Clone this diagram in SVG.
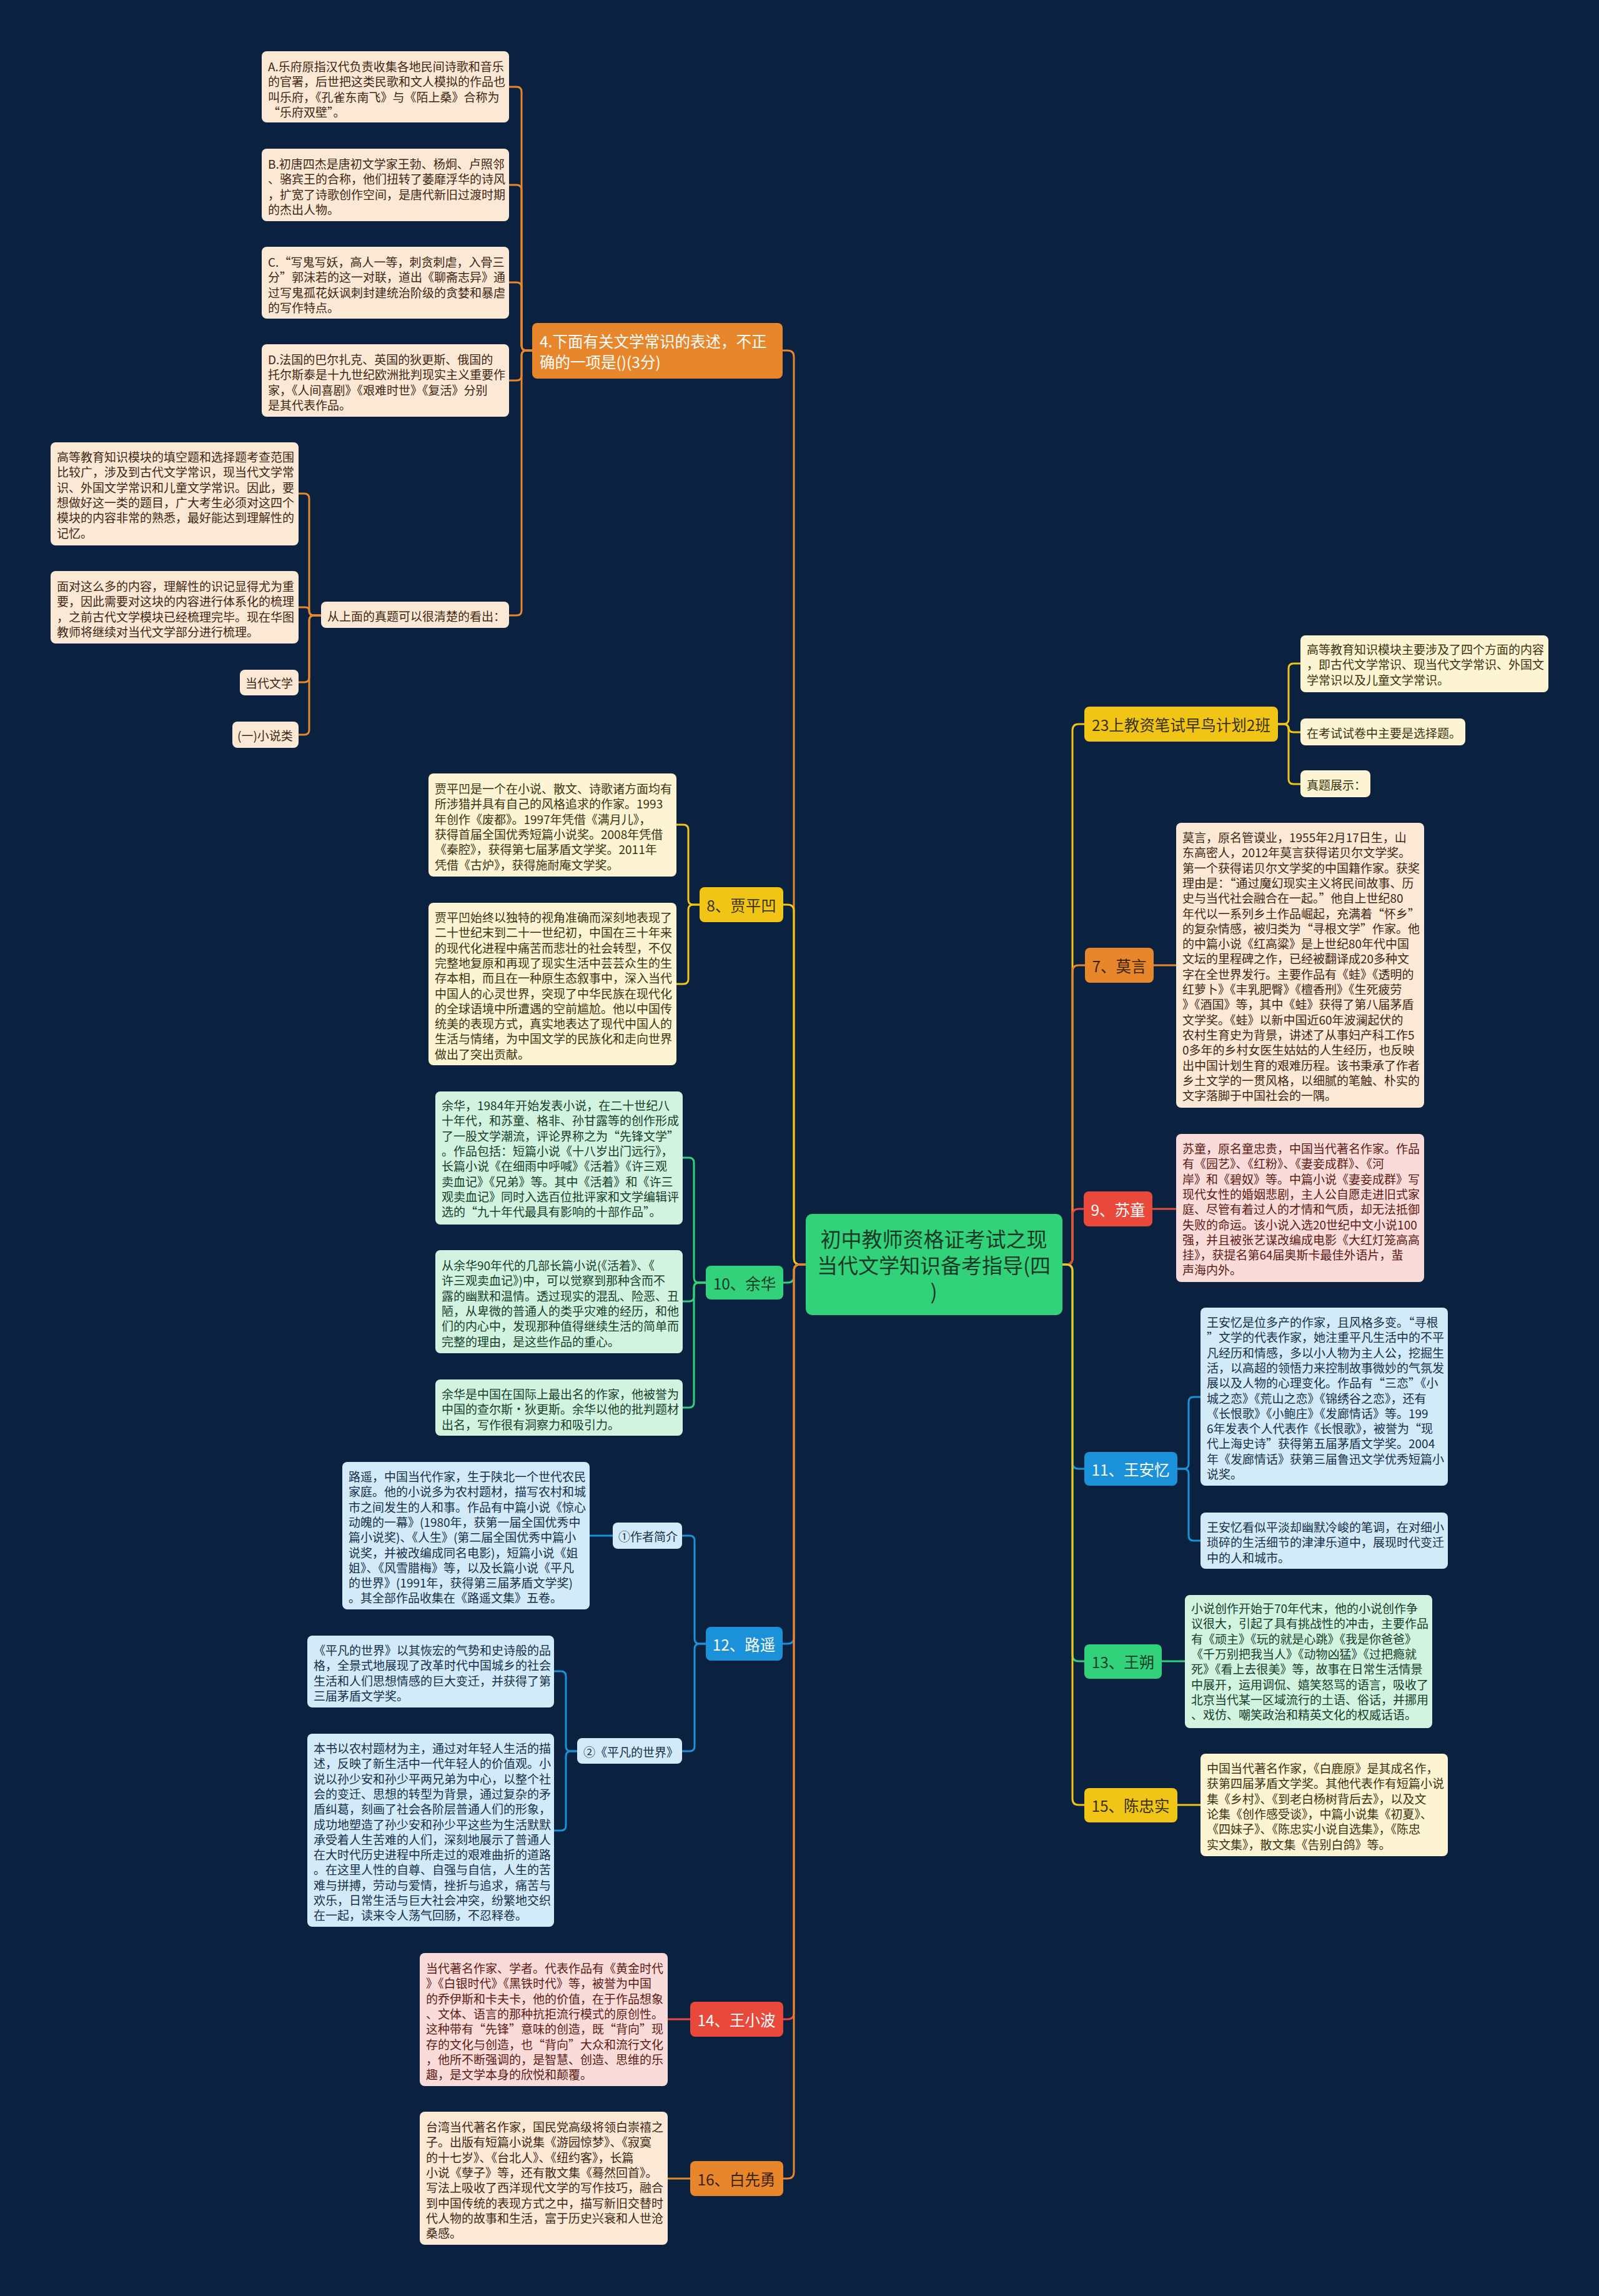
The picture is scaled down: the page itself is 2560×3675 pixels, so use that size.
<svg xmlns="http://www.w3.org/2000/svg" width="2560" height="3675" viewBox="0 0 2560 3675">
<style>
.t{font-family:"Noto Sans CJK SC","Noto Sans",sans-serif;font-size:19px;dominant-baseline:central}
.n{font-family:"Noto Sans CJK SC","Noto Sans",sans-serif;font-size:24.5px;dominant-baseline:central;text-anchor:middle}
.c{fill:none;stroke-width:3;stroke-linejoin:round;stroke-linecap:round}
.lo{fill:#fbe8d5}.to{fill:#3f2613}
.ly{fill:#fcf4d2}.ty{fill:#3b3210}
.lr{fill:#f9dcd9}.tr{fill:#5c1a14}
.lb{fill:#d3eaf8}.tb{fill:#15304a}
.lg{fill:#d3f3e1}.tg{fill:#153d29}
.no{fill:#e8862b}.ny{fill:#f1c515}.ng{fill:#31d27a}.nr{fill:#e8493b}.nb{fill:#1b91d9}
.so{stroke:#e8862b}.sy{stroke:#f1c515}.sg{stroke:#31d27a}.sr{stroke:#e8493b}.sb{stroke:#1b91d9}
.wt{fill:#ffffff}.dk{fill:#3a2208}
</style>
<rect x="0" y="0" width="2560" height="3675" fill="#0a2140"/>

<g id="connectors">
<!-- right main -->
<path class="c sy" d="M1701 2024 H1707 Q1717 2024 1717 2014 V1169 Q1717 1159 1727 1159 H1736"/>
<path class="c so" d="M1701 2024 H1707 Q1717 2024 1717 2014 V1555 Q1717 1545 1727 1545 H1737"/>
<path class="c sr" d="M1701 2024 H1707 Q1717 2024 1717 2014 V1945 Q1717 1935 1727 1935 H1735"/>
<path class="c sb" d="M1701 2024 H1707 Q1717 2024 1717 2034 V2341 Q1717 2351 1727 2351 H1736"/>
<path class="c sg" d="M1701 2024 H1707 Q1717 2024 1717 2034 V2649 Q1717 2659 1727 2659 H1736"/>
<path class="c sy" d="M1701 2024 H1707 Q1717 2024 1717 2034 V2879 Q1717 2889 1727 2889 H1736"/>
<!-- left main -->
<path class="c so" d="M1290 2024 H1281 Q1271 2024 1271 2014 V571 Q1271 561 1261 561 H1253"/>
<path class="c sy" d="M1290 2024 H1281 Q1271 2024 1271 2014 V1458 Q1271 1448 1261 1448 H1254"/>
<path class="c sg" d="M1290 2024 H1281 Q1271 2024 1271 2034 V2043 Q1271 2053 1261 2053 H1254"/>
<path class="c sb" d="M1290 2024 H1281 Q1271 2024 1271 2034 V2621 Q1271 2631 1261 2631 H1253"/>
<path class="c sr" d="M1290 2024 H1281 Q1271 2024 1271 2034 V3222 Q1271 3232 1261 3232 H1254"/>
<path class="c so" d="M1290 2024 H1281 Q1271 2024 1271 2034 V3477 Q1271 3487 1261 3487 H1254"/>
<!-- 23上 -->
<path class="c sy" d="M2046 1159 H2055 Q2063 1159 2063 1151 V1070 Q2063 1062 2071 1062 H2082"/>
<path class="c sy" d="M2046 1159 H2055 Q2063 1159 2063 1167 V1164 Q2063 1172 2071 1172 H2082"/>
<path class="c sy" d="M2046 1159 H2055 Q2063 1159 2063 1167 V1247 Q2063 1255 2071 1255 H2082"/>
<path class="c so" d="M1847 1545 H1883"/>
<path class="c sr" d="M1845 1935 H1883"/>
<path class="c sb" d="M1885 2351 H1895 Q1903 2351 1903 2343 V2244 Q1903 2236 1911 2236 H1922"/>
<path class="c sb" d="M1885 2351 H1895 Q1903 2351 1903 2359 V2458 Q1903 2466 1911 2466 H1922"/>
<path class="c sg" d="M1860 2659 H1897"/>
<path class="c sy" d="M1885 2889 H1922"/>
<!-- 4. -->
<path class="c so" d="M852 561 H843 Q835 561 835 553 V147 Q835 139 827 139 H815"/>
<path class="c so" d="M852 561 H843 Q835 561 835 553 V304 Q835 296 827 296 H815"/>
<path class="c so" d="M852 561 H843 Q835 561 835 553 V460 Q835 452 827 452 H815"/>
<path class="c so" d="M852 561 H843 Q835 561 835 569 V601 Q835 609 827 609 H815"/>
<path class="c so" d="M852 561 H843 Q835 561 835 569 V977 Q835 985 827 985 H815"/>
<!-- 从上面 -->
<path class="c so" d="M514 985 H503 Q495 985 495 977 V798 Q495 790 487 790 H478"/>
<path class="c so" d="M514 985 H503 Q495 985 495 979 V978 Q495 972 489 972 H478"/>
<path class="c so" d="M514 985 H503 Q495 985 495 993 V1084 Q495 1092 487 1092 H478"/>
<path class="c so" d="M514 985 H503 Q495 985 495 993 V1168 Q495 1176 487 1176 H478"/>
<!-- 贾平凹 -->
<path class="c sy" d="M1120 1448 H1110 Q1102 1448 1102 1440 V1328 Q1102 1320 1094 1320 H1083"/>
<path class="c sy" d="M1120 1448 H1110 Q1102 1448 1102 1456 V1567 Q1102 1575 1094 1575 H1083"/>
<!-- 余华 -->
<path class="c sg" d="M1130 2053 H1119 Q1111 2053 1111 2045 V1861 Q1111 1853 1103 1853 H1093"/>
<path class="c sg" d="M1130 2053 H1119 Q1111 2053 1111 2061 V2075 Q1111 2083 1103 2083 H1093"/>
<path class="c sg" d="M1130 2053 H1119 Q1111 2053 1111 2061 V2245 Q1111 2253 1103 2253 H1093"/>
<!-- 路遥 -->
<path class="c sb" d="M1130 2631 H1120 Q1112 2631 1112 2623 V2466 Q1112 2458 1104 2458 H1092"/>
<path class="c sb" d="M1130 2631 H1120 Q1112 2631 1112 2639 V2795 Q1112 2803 1104 2803 H1092"/>
<path class="c sb" d="M981 2458 H944"/>
<path class="c sb" d="M924 2803 H914 Q906 2803 906 2795 V2683 Q906 2675 898 2675 H887"/>
<path class="c sb" d="M924 2803 H914 Q906 2803 906 2811 V2922 Q906 2930 898 2930 H887"/>
<path class="c sr" d="M1105 3232 H1069"/>
<path class="c so" d="M1105 3487 H1069"/>
</g>

<g id="center">
<rect x="1290" y="1943" width="411" height="162" rx="10" fill="#31d27a"/>
<text class="n" style="font-size:33px" fill="#173a26"><tspan x="1495" y="1982">初中教师资格证考试之现</tspan><tspan x="1495" y="2024">当代文学知识备考指导(四</tspan><tspan x="1495" y="2066">)</tspan></text>
</g>

<!-- right branches -->
<g id="n23">
<rect class="ny" x="1736" y="1131" width="310" height="56" rx="8"/>
<text class="n ty" x="1891" y="1159">23上教资笔试早鸟计划2班</text>
</g>
<g id="n23a">
<rect class="ly" x="2082" y="1017" width="397" height="91" rx="8"/>
<text class="t ty"><tspan x="2092" y="1038">高等教育知识模块主要涉及了四个方面的内容</tspan><tspan x="2092" y="1062.3">，即古代文学常识、现当代文学常识、外国文</tspan><tspan x="2092" y="1086.6">学常识以及儿童文学常识。</tspan></text>
</g>
<g id="n23b">
<rect class="ly" x="2082" y="1150" width="264" height="43" rx="8"/>
<text class="t ty" x="2092" y="1172">在考试试卷中主要是选择题。</text>
</g>
<g id="n23c">
<rect class="ly" x="2082" y="1233" width="112" height="43" rx="8"/>
<text class="t ty" x="2092" y="1255">真题展示：</text>
</g>

<g id="n7">
<rect class="no" x="1737" y="1517" width="110" height="56" rx="8"/>
<text class="n dk" x="1792" y="1545">7、莫言</text>
</g>
<g id="n7a">
<rect class="lo" x="1883" y="1317" width="397" height="456" rx="8"/>
<text class="t to"><tspan x="1893" y="1339">莫言，原名管谟业，1955年2月17日生，山</tspan><tspan x="1893" y="1363.3">东高密人，2012年莫言获得诺贝尔文学奖。</tspan><tspan x="1893" y="1387.6">第一个获得诺贝尔文学奖的中国籍作家。获奖</tspan><tspan x="1893" y="1411.9">理由是：“通过魔幻现实主义将民间故事、历</tspan><tspan x="1893" y="1436.2">史与当代社会融合在一起。”他自上世纪80</tspan><tspan x="1893" y="1460.5">年代以一系列乡土作品崛起，充满着“怀乡”</tspan><tspan x="1893" y="1484.8">的复杂情感，被归类为“寻根文学”作家。他</tspan><tspan x="1893" y="1509.1">的中篇小说《红高粱》是上世纪80年代中国</tspan><tspan x="1893" y="1533.4">文坛的里程碑之作，已经被翻译成20多种文</tspan><tspan x="1893" y="1557.7">字在全世界发行。主要作品有《蛙》《透明的</tspan><tspan x="1893" y="1582">红萝卜》《丰乳肥臀》《檀香刑》《生死疲劳</tspan><tspan x="1893" y="1606.3">》《酒国》等，其中《蛙》获得了第八届茅盾</tspan><tspan x="1893" y="1630.6">文学奖。《蛙》以新中国近60年波澜起伏的</tspan><tspan x="1893" y="1654.9">农村生育史为背景，讲述了从事妇产科工作5</tspan><tspan x="1893" y="1679.2">0多年的乡村女医生姑姑的人生经历，也反映</tspan><tspan x="1893" y="1703.5">出中国计划生育的艰难历程。该书秉承了作者</tspan><tspan x="1893" y="1727.8">乡土文学的一贯风格，以细腻的笔触、朴实的</tspan><tspan x="1893" y="1752.1">文字落脚于中国社会的一隅。</tspan></text>
</g>

<g id="n9">
<rect class="nr" x="1735" y="1907" width="110" height="56" rx="8"/>
<text class="n wt" x="1790" y="1935">9、苏童</text>
</g>
<g id="n9a">
<rect class="lr" x="1883" y="1815" width="397" height="237" rx="8"/>
<text class="t tr"><tspan x="1893" y="1837">苏童，原名童忠贵，中国当代著名作家。作品</tspan><tspan x="1893" y="1861.3">有《园艺》、《红粉》、《妻妾成群》、《河</tspan><tspan x="1893" y="1885.6">岸》和《碧奴》等。中篇小说《妻妾成群》写</tspan><tspan x="1893" y="1909.9">现代女性的婚姻悲剧，主人公自愿走进旧式家</tspan><tspan x="1893" y="1934.2">庭、尽管有着过人的才情和气质，却无法抵御</tspan><tspan x="1893" y="1958.5">失败的命运。该小说入选20世纪中文小说100</tspan><tspan x="1893" y="1982.8">强，并且被张艺谋改编成电影《大红灯笼高高</tspan><tspan x="1893" y="2007.1">挂》，获提名第64届奥斯卡最佳外语片，蜚</tspan><tspan x="1893" y="2031.4">声海内外。</tspan></text>
</g>

<g id="n11">
<rect class="nb" x="1736" y="2324" width="149" height="54" rx="8"/>
<text class="n wt" x="1810" y="2351">11、王安忆</text>
</g>
<g id="n11a">
<rect class="lb" x="1922" y="2093" width="396" height="285" rx="8"/>
<text class="t tb"><tspan x="1932" y="2115">王安忆是位多产的作家，且风格多变。“寻根</tspan><tspan x="1932" y="2139.3">”文学的代表作家，她注重平凡生活中的不平</tspan><tspan x="1932" y="2163.6">凡经历和情感，多以小人物为主人公，挖掘生</tspan><tspan x="1932" y="2187.9">活，以高超的领悟力来控制故事微妙的气氛发</tspan><tspan x="1932" y="2212.2">展以及人物的心理变化。作品有“三恋”《小</tspan><tspan x="1932" y="2236.5">城之恋》《荒山之恋》《锦绣谷之恋》，还有</tspan><tspan x="1932" y="2260.8">《长恨歌》《小鲍庄》《发廊情话》等。199</tspan><tspan x="1932" y="2285.1">6年发表个人代表作《长恨歌》，被誉为“现</tspan><tspan x="1932" y="2309.4">代上海史诗”获得第五届茅盾文学奖。2004</tspan><tspan x="1932" y="2333.7">年《发廊情话》获第三届鲁迅文学优秀短篇小</tspan><tspan x="1932" y="2358">说奖。</tspan></text>
</g>
<g id="n11b">
<rect class="lb" x="1922" y="2421" width="396" height="90" rx="8"/>
<text class="t tb"><tspan x="1932" y="2443">王安忆看似平淡却幽默冷峻的笔调，在对细小</tspan><tspan x="1932" y="2467.3">琐碎的生活细节的津津乐道中，展现时代变迁</tspan><tspan x="1932" y="2491.6">中的人和城市。</tspan></text>
</g>

<g id="n13">
<rect class="ng" x="1736" y="2632" width="124" height="55" rx="8"/>
<text class="n tg" x="1798" y="2659">13、王朔</text>
</g>
<g id="n13a">
<rect class="lg" x="1897" y="2553" width="396" height="213" rx="8"/>
<text class="t tg"><tspan x="1907" y="2573">小说创作开始于70年代末，他的小说创作争</tspan><tspan x="1907" y="2597.3">议很大，引起了具有挑战性的冲击，主要作品</tspan><tspan x="1907" y="2621.6">有《顽主》《玩的就是心跳》《我是你爸爸》</tspan><tspan x="1907" y="2645.9">《千万别把我当人》《动物凶猛》《过把瘾就</tspan><tspan x="1907" y="2670.2">死》《看上去很美》等，故事在日常生活情景</tspan><tspan x="1907" y="2694.5">中展开，运用调侃、嬉笑怒骂的语言，吸收了</tspan><tspan x="1907" y="2718.8">北京当代某一区域流行的土语、俗话，并挪用</tspan><tspan x="1907" y="2743.1">、戏仿、嘲笑政治和精英文化的权威话语。</tspan></text>
</g>

<g id="n15">
<rect class="ny" x="1736" y="2862" width="149" height="55" rx="8"/>
<text class="n ty" x="1810" y="2889">15、陈忠实</text>
</g>
<g id="n15a">
<rect class="ly" x="1922" y="2807" width="396" height="164" rx="8"/>
<text class="t ty"><tspan x="1932" y="2829">中国当代著名作家，《白鹿原》是其成名作，</tspan><tspan x="1932" y="2853.3">获第四届茅盾文学奖。其他代表作有短篇小说</tspan><tspan x="1932" y="2877.6">集《乡村》、《到老白杨树背后去》，以及文</tspan><tspan x="1932" y="2901.9">论集《创作感受谈》，中篇小说集《初夏》、</tspan><tspan x="1932" y="2926.2">《四妹子》、《陈忠实小说自选集》，《陈忠</tspan><tspan x="1932" y="2950.5">实文集》，散文集《告别白鸽》等。</tspan></text>
</g>

<!-- left branches -->
<g id="n4">
<rect class="no" x="852" y="517" width="401" height="89" rx="8"/>
<text class="n wt" style="text-anchor:start"><tspan x="864" y="545">4.下面有关文学常识的表述，不正</tspan><tspan x="864" y="578">确的一项是()(3分)</tspan></text>
</g>
<g id="n4a">
<rect class="lo" x="419" y="82" width="396" height="114" rx="8"/>
<text class="t to"><tspan x="429" y="105">A.乐府原指汉代负责收集各地民间诗歌和音乐</tspan><tspan x="429" y="129.3">的官署，后世把这类民歌和文人模拟的作品也</tspan><tspan x="429" y="153.6">叫乐府，《孔雀东南飞》与《陌上桑》合称为</tspan><tspan x="429" y="177.9">“乐府双壁”。</tspan></text>
</g>
<g id="n4b">
<rect class="lo" x="419" y="238" width="396" height="116" rx="8"/>
<text class="t to"><tspan x="429" y="261">B.初唐四杰是唐初文学家王勃、杨炯、卢照邻</tspan><tspan x="429" y="285.3">、骆宾王的合称，他们扭转了萎靡浮华的诗风</tspan><tspan x="429" y="309.6">，扩宽了诗歌创作空间，是唐代新旧过渡时期</tspan><tspan x="429" y="333.9">的杰出人物。</tspan></text>
</g>
<g id="n4c">
<rect class="lo" x="419" y="395" width="396" height="115" rx="8"/>
<text class="t to"><tspan x="429" y="418">C.“写鬼写妖，高人一等，刺贪刺虐，入骨三</tspan><tspan x="429" y="442.3">分”郭沫若的这一对联，道出《聊斋志异》通</tspan><tspan x="429" y="466.6">过写鬼孤花妖讽刺封建统治阶级的贪婪和暴虐</tspan><tspan x="429" y="490.9">的写作特点。</tspan></text>
</g>
<g id="n4d">
<rect class="lo" x="419" y="551" width="396" height="116" rx="8"/>
<text class="t to"><tspan x="429" y="574">D.法国的巴尔扎克、英国的狄更斯、俄国的</tspan><tspan x="429" y="598.3">托尔斯泰是十九世纪欧洲批判现实主义重要作</tspan><tspan x="429" y="622.6">家，《人间喜剧》《艰难时世》《复活》分别</tspan><tspan x="429" y="646.9">是其代表作品。</tspan></text>
</g>
<g id="n4e">
<rect class="lo" x="514" y="963" width="301" height="42" rx="8"/>
<text class="t to" x="524" y="985">从上面的真题可以很清楚的看出：</text>
</g>
<g id="n4e1">
<rect class="lo" x="81" y="708" width="397" height="165" rx="8"/>
<text class="t to"><tspan x="91" y="730">高等教育知识模块的填空题和选择题考查范围</tspan><tspan x="91" y="754.3">比较广，涉及到古代文学常识，现当代文学常</tspan><tspan x="91" y="778.6">识、外国文学常识和儿童文学常识。因此，要</tspan><tspan x="91" y="802.9">想做好这一类的题目，广大考生必须对这四个</tspan><tspan x="91" y="827.2">模块的内容非常的熟悉，最好能达到理解性的</tspan><tspan x="91" y="851.5">记忆。</tspan></text>
</g>
<g id="n4e2">
<rect class="lo" x="81" y="914" width="397" height="116" rx="8"/>
<text class="t to"><tspan x="91" y="937">面对这么多的内容，理解性的识记显得尤为重</tspan><tspan x="91" y="961.3">要，因此需要对这块的内容进行体系化的梳理</tspan><tspan x="91" y="985.6">，之前古代文学模块已经梳理完毕。现在华图</tspan><tspan x="91" y="1009.9">教师将继续对当代文学部分进行梳理。</tspan></text>
</g>
<g id="n4e3">
<rect class="lo" x="384" y="1072" width="94" height="41" rx="8"/>
<text class="t to" x="393" y="1092">当代文学</text>
</g>
<g id="n4e4">
<rect class="lo" x="372" y="1155" width="106" height="42" rx="8"/>
<text class="t to" x="380" y="1176">(一)小说类</text>
</g>

<g id="n8">
<rect class="ny" x="1120" y="1420" width="134" height="56" rx="8"/>
<text class="n ty" x="1187" y="1448">8、贾平凹</text>
</g>
<g id="n8a">
<rect class="ly" x="686" y="1238" width="397" height="165" rx="8"/>
<text class="t ty"><tspan x="696" y="1261">贾平凹是一个在小说、散文、诗歌诸方面均有</tspan><tspan x="696" y="1285.3">所涉猎并具有自己的风格追求的作家。1993</tspan><tspan x="696" y="1309.6">年创作《废都》。1997年凭借《满月儿》，</tspan><tspan x="696" y="1333.9">获得首届全国优秀短篇小说奖。2008年凭借</tspan><tspan x="696" y="1358.2">《秦腔》，获得第七届茅盾文学奖。2011年</tspan><tspan x="696" y="1382.5">凭借《古炉》，获得施耐庵文学奖。</tspan></text>
</g>
<g id="n8b">
<rect class="ly" x="686" y="1445" width="397" height="260" rx="8"/>
<text class="t ty"><tspan x="696" y="1467">贾平凹始终以独特的视角准确而深刻地表现了</tspan><tspan x="696" y="1491.3">二十世纪末到二十一世纪初，中国在三十年来</tspan><tspan x="696" y="1515.6">的现代化进程中痛苦而悲壮的社会转型，不仅</tspan><tspan x="696" y="1539.9">完整地复原和再现了现实生活中芸芸众生的生</tspan><tspan x="696" y="1564.2">存本相，而且在一种原生态叙事中，深入当代</tspan><tspan x="696" y="1588.5">中国人的心灵世界，突现了中华民族在现代化</tspan><tspan x="696" y="1612.8">的全球语境中所遭遇的空前尴尬。他以中国传</tspan><tspan x="696" y="1637.1">统美的表现方式，真实地表达了现代中国人的</tspan><tspan x="696" y="1661.4">生活与情绪，为中国文学的民族化和走向世界</tspan><tspan x="696" y="1685.7">做出了突出贡献。</tspan></text>
</g>

<g id="n10">
<rect class="ng" x="1130" y="2026" width="124" height="54" rx="8"/>
<text class="n tg" x="1192" y="2053">10、余华</text>
</g>
<g id="n10a">
<rect class="lg" x="697" y="1747" width="396" height="213" rx="8"/>
<text class="t tg"><tspan x="707" y="1768">余华，1984年开始发表小说，在二十世纪八</tspan><tspan x="707" y="1792.3">十年代，和苏童、格非、孙甘露等的创作形成</tspan><tspan x="707" y="1816.6">了一股文学潮流，评论界称之为“先锋文学”</tspan><tspan x="707" y="1840.9">。作品包括：短篇小说《十八岁出门远行》，</tspan><tspan x="707" y="1865.2">长篇小说《在细雨中呼喊》《活着》《许三观</tspan><tspan x="707" y="1889.5">卖血记》《兄弟》等。其中《活着》和《许三</tspan><tspan x="707" y="1913.8">观卖血记》同时入选百位批评家和文学编辑评</tspan><tspan x="707" y="1938.1">选的“九十年代最具有影响的十部作品”。</tspan></text>
</g>
<g id="n10b">
<rect class="lg" x="697" y="2001" width="396" height="165" rx="8"/>
<text class="t tg"><tspan x="707" y="2024">从余华90年代的几部长篇小说(《活着》、《</tspan><tspan x="707" y="2048.3">许三观卖血记》)中，可以觉察到那种含而不</tspan><tspan x="707" y="2072.6">露的幽默和温情。透过现实的混乱、险恶、丑</tspan><tspan x="707" y="2096.9">陋，从卑微的普通人的类乎灾难的经历，和他</tspan><tspan x="707" y="2121.2">们的内心中，发现那种值得继续生活的简单而</tspan><tspan x="707" y="2145.5">完整的理由，是这些作品的重心。</tspan></text>
</g>
<g id="n10c">
<rect class="lg" x="697" y="2208" width="396" height="90" rx="8"/>
<text class="t tg"><tspan x="707" y="2230">余华是中国在国际上最出名的作家，他被誉为</tspan><tspan x="707" y="2254.3">中国的查尔斯·狄更斯。余华以他的批判题材</tspan><tspan x="707" y="2278.6">出名，写作很有洞察力和吸引力。</tspan></text>
</g>

<g id="n12">
<rect class="nb" x="1130" y="2604" width="123" height="54" rx="8"/>
<text class="n wt" x="1191" y="2631">12、路遥</text>
</g>
<g id="n12a">
<rect class="lb" x="981" y="2437" width="111" height="42" rx="8"/>
<text class="t tb" x="990" y="2458">①作者简介</text>
</g>
<g id="n12a1">
<rect class="lb" x="548" y="2340" width="396" height="236" rx="8"/>
<text class="t tb"><tspan x="558" y="2362">路遥，中国当代作家，生于陕北一个世代农民</tspan><tspan x="558" y="2386.3">家庭。他的小说多为农村题材，描写农村和城</tspan><tspan x="558" y="2410.6">市之间发生的人和事。作品有中篇小说《惊心</tspan><tspan x="558" y="2434.9">动魄的一幕》(1980年，获第一届全国优秀中</tspan><tspan x="558" y="2459.2">篇小说奖)、《人生》(第二届全国优秀中篇小</tspan><tspan x="558" y="2483.5">说奖，并被改编成同名电影)，短篇小说《姐</tspan><tspan x="558" y="2507.8">姐》、《风雪腊梅》等，以及长篇小说《平凡</tspan><tspan x="558" y="2532.1">的世界》(1991年，获得第三届茅盾文学奖)</tspan><tspan x="558" y="2556.4">。其全部作品收集在《路遥文集》五卷。</tspan></text>
</g>
<g id="n12b">
<rect class="lb" x="924" y="2782" width="168" height="41" rx="8"/>
<text class="t tb" x="934" y="2803">②《平凡的世界》</text>
</g>
<g id="n12b1">
<rect class="lb" x="492" y="2618" width="395" height="115" rx="8"/>
<text class="t tb"><tspan x="502" y="2640">《平凡的世界》以其恢宏的气势和史诗般的品</tspan><tspan x="502" y="2664.3">格，全景式地展现了改革时代中国城乡的社会</tspan><tspan x="502" y="2688.6">生活和人们思想情感的巨大变迁，并获得了第</tspan><tspan x="502" y="2712.9">三届茅盾文学奖。</tspan></text>
</g>
<g id="n12b2">
<rect class="lb" x="492" y="2775" width="395" height="309" rx="8"/>
<text class="t tb"><tspan x="502" y="2797">本书以农村题材为主，通过对年轻人生活的描</tspan><tspan x="502" y="2821.3">述，反映了新生活中一代年轻人的价值观。小</tspan><tspan x="502" y="2845.6">说以孙少安和孙少平两兄弟为中心，以整个社</tspan><tspan x="502" y="2869.9">会的变迁、思想的转型为背景，通过复杂的矛</tspan><tspan x="502" y="2894.2">盾纠葛，刻画了社会各阶层普通人们的形象，</tspan><tspan x="502" y="2918.5">成功地塑造了孙少安和孙少平这些为生活默默</tspan><tspan x="502" y="2942.8">承受着人生苦难的人们，深刻地展示了普通人</tspan><tspan x="502" y="2967.1">在大时代历史进程中所走过的艰难曲折的道路</tspan><tspan x="502" y="2991.4">。在这里人性的自尊、自强与自信，人生的苦</tspan><tspan x="502" y="3015.7">难与拼搏，劳动与爱情，挫折与追求，痛苦与</tspan><tspan x="502" y="3040">欢乐，日常生活与巨大社会冲突，纷繁地交织</tspan><tspan x="502" y="3064.3">在一起，读来令人荡气回肠，不忍释卷。</tspan></text>
</g>

<g id="n14">
<rect class="nr" x="1105" y="3204" width="149" height="56" rx="8"/>
<text class="n wt" x="1179" y="3232">14、王小波</text>
</g>
<g id="n14a">
<rect class="lr" x="672" y="3126" width="397" height="213" rx="8"/>
<text class="t tr"><tspan x="682" y="3149">当代著名作家、学者。代表作品有《黄金时代</tspan><tspan x="682" y="3173.3">》《白银时代》《黑铁时代》等，被誉为中国</tspan><tspan x="682" y="3197.6">的乔伊斯和卡夫卡，他的价值，在于作品想象</tspan><tspan x="682" y="3221.9">、文体、语言的那种抗拒流行模式的原创性。</tspan><tspan x="682" y="3246.2">这种带有“先锋”意味的创造，既“背向”现</tspan><tspan x="682" y="3270.5">存的文化与创造，也“背向”大众和流行文化</tspan><tspan x="682" y="3294.8">，他所不断强调的，是智慧、创造、思维的乐</tspan><tspan x="682" y="3319.1">趣，是文学本身的欣悦和颠覆。</tspan></text>
</g>

<g id="n16">
<rect class="no" x="1105" y="3459" width="149" height="56" rx="8"/>
<text class="n dk" x="1179" y="3487">16、白先勇</text>
</g>
<g id="n16a">
<rect class="lo" x="672" y="3380" width="397" height="213" rx="8"/>
<text class="t to"><tspan x="682" y="3403">台湾当代著名作家，国民党高级将领白崇禧之</tspan><tspan x="682" y="3427.3">子。出版有短篇小说集《游园惊梦》、《寂寞</tspan><tspan x="682" y="3451.6">的十七岁》、《台北人》、《纽约客》，长篇</tspan><tspan x="682" y="3475.9">小说《孽子》等，还有散文集《蓦然回首》。</tspan><tspan x="682" y="3500.2">写法上吸收了西洋现代文学的写作技巧，融合</tspan><tspan x="682" y="3524.5">到中国传统的表现方式之中，描写新旧交替时</tspan><tspan x="682" y="3548.8">代人物的故事和生活，富于历史兴衰和人世沧</tspan><tspan x="682" y="3573.1">桑感。</tspan></text>
</g>
</svg>
